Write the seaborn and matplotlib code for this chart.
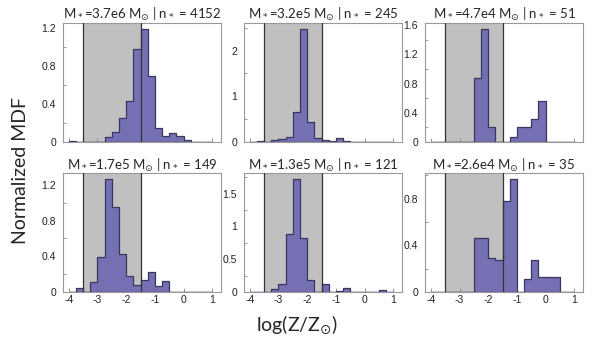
import numpy as np
import pandas as pd
import matplotlib
matplotlib.use("Agg")
import matplotlib.pyplot as plt
import seaborn as sns
from matplotlib.ticker import MultipleLocator, AutoMinorLocator, FormatStrFormatter

# bin edges in log(Z/Zsun), width 0.25
bin_edges = np.arange(-4.0, 1.0001, 0.25)
bin_centers = 0.5 * (bin_edges[:-1] + bin_edges[1:])

# normalized MDF per panel (one value per bin)
mdf_37e6 = [0.01, 0, 0, 0, 0, 0.05, 0.11, 0.25, 0.43, 0.975, 1.19, 0.69, 0.15, 0.06, 0.09, 0.06, 0.025, 0, 0, 0]
mdf_32e5 = [0, 0.02, 0, 0.035, 0.06, 0.12, 0.65, 2.48, 0.43, 0.09, 0.05, 0.02, 0.09, 0.015, 0.01, 0, 0.01, 0, 0, 0]
mdf_47e4 = [0, 0, 0, 0, 0, 0, 0.87, 1.55, 0.21, 0, 0, 0.065, 0.2, 0.21, 0.31, 0.56, 0, 0, 0, 0]
mdf_17e5 = [0, 0.04, 0, 0.11, 0.39, 1.27, 0.95, 0.43, 0.18, 0.075, 0.135, 0.225, 0.065, 0.12, 0, 0, 0, 0, 0, 0]
mdf_13e5 = [0, 0, 0, 0.045, 0.12, 0.89, 1.73, 0.82, 0.185, 0, 0.12, 0, 0.02, 0.055, 0, 0, 0, 0, 0.025, 0]
mdf_26e4 = [0, 0, 0, 0, 0, 0, 0.46, 0.46, 0.29, 0.27, 0.78, 0.97, 0, 0.115, 0.27, 0.13, 0.125, 0.125, 0, 0]

panel_data = [mdf_37e6, mdf_32e5, mdf_47e4, mdf_17e5, mdf_13e5, mdf_26e4]
panel_mass = ["3.7e6", "3.2e5", "4.7e4", "1.7e5", "1.3e5", "2.6e4"]
panel_nstars = [4152, 245, 51, 149, 121, 35]
y_major = [0.4, 1, 0.4, 0.4, 0.5, 0.4]

# shaded metallicity window
shade_lo, shade_hi = -3.5, -1.5

sns.set_theme(style="white")
plt.rcParams['font.family'] = ['Lato', 'DejaVu Sans']
plt.rcParams['axes.unicode_minus'] = False

fig, axes = plt.subplots(2, 3, figsize=(5.92, 3.45), dpi=100, sharex=True)
fig.subplots_adjust(left=0.1064, right=0.9848, bottom=0.1536, top=0.9333,
                    wspace=0.146, hspace=0.26)

for ax, vals, mass, nst, ymaj in zip(axes.flat, panel_data, panel_mass, panel_nstars, y_major):
    df = pd.DataFrame({"logz": bin_centers, "mdf": vals})
    ax.axvspan(shade_lo, shade_hi, color="#c0c0c0", lw=0, zorder=0)
    sns.histplot(data=df, x="logz", weights="mdf", bins=list(bin_edges), element="step",
                 fill=True, color="#7570b3", alpha=1, edgecolor="#38375f",
                 linewidth=0.9, ax=ax, zorder=2)
    ax.axvline(shade_lo, color="#333333", lw=0.9, zorder=3)
    ax.axvline(shade_hi, color="#333333", lw=0.9, zorder=3)

    ax.set_xlim(-4.2, 1.3)
    ax.set_ylim(0, 1.05 * max(vals))
    ax.set_xlabel("")
    ax.set_ylabel("")
    ax.set_title(r"M$_{\rm *}$=" + mass + r" M$_{\odot}$ | n$_{\rm *}$ = " + str(nst),
                 fontsize=9.5, pad=2.5)

    ax.xaxis.set_major_locator(MultipleLocator(1))
    ax.yaxis.set_major_locator(MultipleLocator(ymaj))
    ax.yaxis.set_minor_locator(AutoMinorLocator(2))
    ax.yaxis.set_major_formatter(FormatStrFormatter("%g"))
    ax.tick_params(axis="both", which="both", direction="in", labelsize=7.5,
                   colors="#888888", labelcolor="#222222", pad=2)
    ax.tick_params(axis="y", which="major", pad=5)
    ax.tick_params(axis="both", which="major", length=3, width=0.6)
    ax.tick_params(axis="y", which="minor", length=2, width=0.6, left=True)
    ax.tick_params(axis="x", bottom=True)
    for lab in ax.get_xticklabels() + ax.get_yticklabels():
        lab.set_family(["Liberation Sans", "DejaVu Sans"])
    for sp in ax.spines.values():
        sp.set_color("#999999")
        sp.set_linewidth(0.8)

fig.text(0.034, 0.507, "Normalized MDF", rotation=90, ha="center", va="center", fontsize=14)
fig.text(0.502, 0.058, r"log(Z/Z$_{\odot}$)", ha="center", va="center", fontsize=14)

plt.savefig("out.png", dpi=100)
